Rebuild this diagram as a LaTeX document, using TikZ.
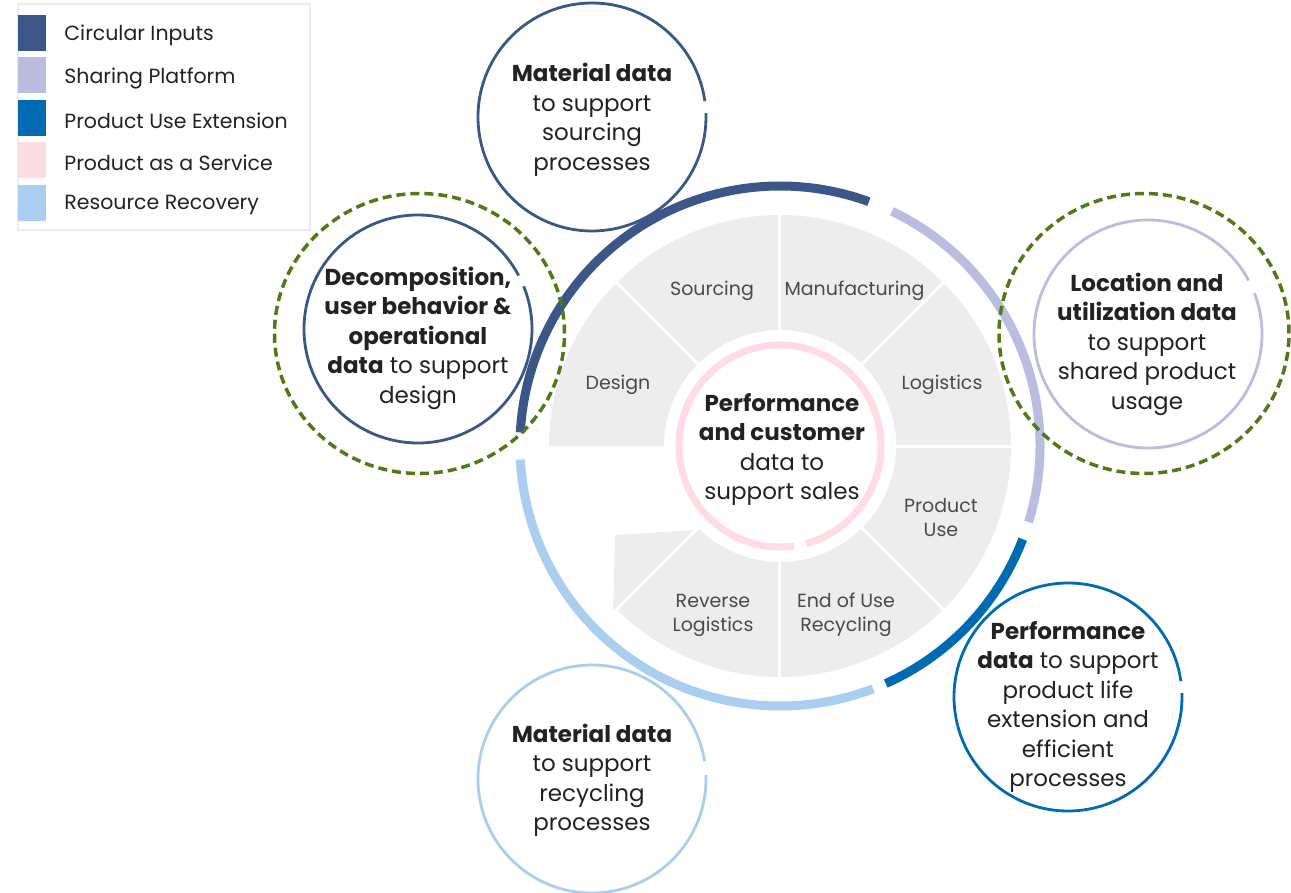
\documentclass[tikz,border=0pt]{standalone}
\usepackage{fontspec}
\setmainfont{Poppins}
\usepackage{xcolor}
\usepackage{tikz}
\usetikzlibrary{positioning}

\definecolor{ciblue}{HTML}{3A5787}
\definecolor{splav}{HTML}{BBBDE0}
\definecolor{peblue}{HTML}{006AB3}
\definecolor{paspink}{HTML}{FFDCE3}
\definecolor{rrblue}{HTML}{AACEF0}
\definecolor{sectgray}{HTML}{EDEDED}
\definecolor{dashgreen}{HTML}{507A12}
\definecolor{txtdark}{HTML}{222222}
\definecolor{txtgray}{HTML}{4A4A4A}

\begin{document}
\begin{tikzpicture}[x=1pt, y=1pt, every node/.style={inner sep=0pt}]
	\useasboundingbox (-780,-446) rectangle (511,446);
	
	% legend
	\begin{scope}[
		legsq/.style={minimum width=28pt, minimum height=36pt},
		legtext/.style={right=18pt of #1, yshift=-2.5pt, text=txtdark, font=\fontsize{20.5}{24}\selectfont}]
		\draw[gray!15, line width=1.5pt] (-762,442) rectangle (-470,216);
		\node[legsq, fill=ciblue] (L1) at (-748,413) {};
		\node[legsq, fill=splav] (L2) at (-748,370.5) {};
		\node[legsq, fill=peblue] (L3) at (-748,328) {};
		\node[legsq, fill=paspink] (L4) at (-748,285.5) {};
		\node[legsq, fill=rrblue] (L5) at (-748,243) {};
		\node[legtext=L1] (T1) {Circular Inputs};
		\node[legtext=L2] (T2) {Sharing Platform};
		\node[legtext=L3] (T3) {Product Use Extension};
		\node[legtext=L4] (T4) {Product as a Service};
		\node[legtext=L5] (T5) {Resource Recovery};
	\end{scope}
	
	% grey life cycle sectors
	\fill[sectgray] (0:116pt) -- (0:231pt) arc[start angle=0, end angle=45, radius=231pt] -- (45:116pt) arc[start angle=45, end angle=0, radius=116pt] -- cycle;
	\fill[sectgray] (45:116pt) -- (45:231pt) arc[start angle=45, end angle=90, radius=231pt] -- (90:116pt) arc[start angle=90, end angle=45, radius=116pt] -- cycle;
	\fill[sectgray] (90:116pt) -- (90:231pt) arc[start angle=90, end angle=135, radius=231pt] -- (135:116pt) arc[start angle=135, end angle=90, radius=116pt] -- cycle;
	\fill[sectgray] (135:116pt) -- (135:231pt) arc[start angle=135, end angle=180, radius=231pt] -- (180:116pt) arc[start angle=180, end angle=135, radius=116pt] -- cycle;
	\fill[sectgray] (-45:116pt) -- (-45:231pt) arc[start angle=-45, end angle=0, radius=231pt] -- (0:116pt) arc[start angle=0, end angle=-45, radius=116pt] -- cycle;
	\fill[sectgray] (-90:116pt) -- (-90:231pt) arc[start angle=-90, end angle=-45, radius=231pt] -- (-45:116pt) arc[start angle=-45, end angle=-90, radius=116pt] -- cycle;
	\fill[sectgray] (-135:116pt) -- (-135:231pt) arc[start angle=-135, end angle=-90, radius=231pt] -- (-90:116pt) arc[start angle=-90, end angle=-135, radius=116pt] -- cycle;
	\fill[sectgray] (-165,-89) -- (-84,-84) -- (-167,-167) -- cycle;
	
	\draw[white, line width=3pt] (0:110pt) -- (0:240pt);
	\draw[white, line width=3pt] (45:110pt) -- (45:240pt);
	\draw[white, line width=3pt] (90:110pt) -- (90:240pt);
	\draw[white, line width=3pt] (135:110pt) -- (135:240pt);
	\draw[white, line width=3pt] (-45:110pt) -- (-45:240pt);
	\draw[white, line width=3pt] (-90:110pt) -- (-90:240pt);
	\draw[white, line width=3pt] (-135:110pt) -- (-135:240pt);
	
	% centre
	\draw[paspink, line width=7pt] (-75:101pt) arc[start angle=-75, end angle=278, radius=101pt];
	\node[align=center, font=\fontsize{23}{29.5}\selectfont, text=txtdark] (sales) at (2,-3.5)
		{\textbf{Performance}\\\textbf{and customer}\\data to\\support sales};
	
	\begin{scope}[stage/.style={align=center, text=txtgray, font=\fontsize{19}{24}\selectfont}]
		\node[stage] (sourcing) at (-68,155) {Sourcing};
		\node[stage] (manuf) at (74.5,155) {Manufacturing};
		\node[stage] (design) at (-162,61) {Design};
		\node[stage] (logistics) at (162,61) {Logistics};
		\node[stage] (use) at (161,-72) {Product\\Use};
		\node[stage] (eou) at (66,-168.5) {End of Use\\Recycling};
		\node[stage] (revlog) at (-67,-169) {Reverse\\Logistics};
	\end{scope}
	
	% outer business model ring
	\draw[ciblue, line width=9pt] (70:260pt) arc[start angle=70, end angle=177, radius=260pt];
	\draw[splav, line width=9pt] (-17:260pt) arc[start angle=-17, end angle=64.5, radius=260pt];
	\draw[peblue, line width=9pt] (-66:260pt) arc[start angle=-66, end angle=-21, radius=260pt];
	\draw[rrblue, line width=9pt] (183:260pt) arc[start angle=183, end angle=291, radius=260pt];
	
	% data circles
	\begin{scope}[
		data/.style={align=center, text=txtdark, font=\fontsize{23}{29.5}\selectfont},
		ring/.style={line width=2.8pt}]
		\node[data] (srcdata) at (-188,326) {\textbf{Material data}\\to support\\sourcing\\processes};
		\node[data] (desdata) at (-362,108) {\textbf{Decomposition,}\\\textbf{user behavior \&}\\\textbf{operational}\\\textbf{data} to support\\design};
		\node[data] (locdata) at (367,102) {\textbf{Location and}\\\textbf{utilization data}\\to support\\shared product\\usage};
		\node[data] (perfdata) at (288,-261) {\textbf{Performance}\\\textbf{data} to support\\product life\\extension and\\efficient\\processes};
		\node[data] (recdata) at (-188,-334.5) {\textbf{Material data}\\to support\\recycling\\processes};
		
		\draw[ring, ciblue] (-188,329) ++(8:114pt) arc[start angle=8, end angle=362, radius=114pt];
		\draw[ring, ciblue] (-362,117) ++(28:114pt) arc[start angle=28, end angle=382, radius=114pt];
		\draw[ring, splav] (368,112) ++(28:114pt) arc[start angle=28, end angle=381, radius=114pt];
		\draw[ring, peblue] (288,-251) ++(8:114pt) arc[start angle=8, end angle=362, radius=114pt];
		\draw[ring, rrblue] (-188,-333) ++(9:114pt) arc[start angle=9, end angle=362, radius=114pt];
	\end{scope}
	
	% highlighted
	\draw[dashgreen, line width=3.5pt, dash pattern=on 9pt off 5pt] (-360.5,112.5) ellipse[x radius=145pt, y radius=140pt];
	\draw[dashgreen, line width=3.5pt, dash pattern=on 9pt off 5pt] (364,112.5) ellipse[x radius=145pt, y radius=140pt];
\end{tikzpicture}
\end{document}
